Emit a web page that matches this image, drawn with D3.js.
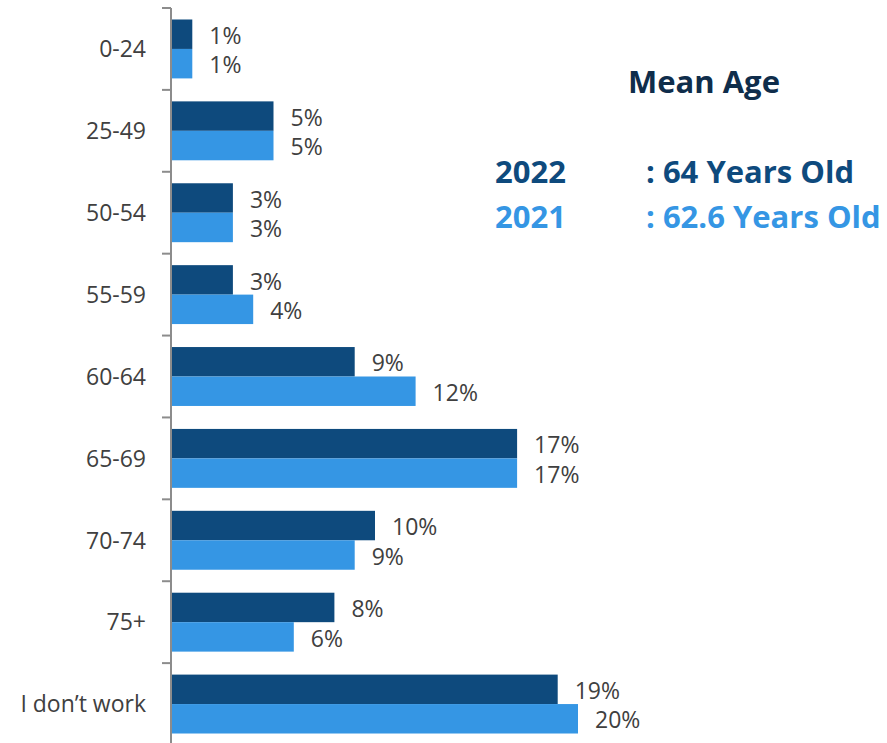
<!DOCTYPE html>
<html>
<head>
<meta charset="utf-8">
<script src="https://cdn.jsdelivr.net/npm/d3@7"></script>
<style>
    body { margin: 0; background: #fff; }
    svg text { font-family: "Open Sans", sans-serif; }
</style>
</head>
<body>
<div id="chart"></div>
<script>
// data
let categories = ["0-24", "25-49", "50-54", "55-59", "60-64", "65-69", "70-74", "75+", "I don\u2019t work"];
let values2022 = [1, 5, 3, 3, 9, 17, 10, 8, 19];
let values2021 = [1, 5, 3, 4, 12, 17, 9, 6, 20];
let seriesNames = ["2022", "2021"];
let meanAges = [": 64 Years Old", ": 62.6 Years Old"];

let colors = {"2022": "#0E4A7D", "2021": "#3596E4"};

let width = 887, height = 743;

let svg = d3.select("#chart").append("svg")
    .attr("width", width)
    .attr("height", height);

// scales
let x = d3.scaleLinear()
    .domain([0, 20])
    .range([172, 578]);

let y = d3.scaleBand()
    .domain(categories)
    .range([8, 745]);

let inner = d3.scaleBand()
    .domain(seriesNames)
    .range([0, y.bandwidth()])
    .paddingOuter(0.39)
    .paddingInner(0);

let rows = categories.map((c, i) => ({cat: c, "2022": values2022[i], "2021": values2021[i]}));

// bars
let groups = svg.selectAll(".row")
    .data(rows)
    .enter().append("g")
    .attr("class", "row")
    .attr("transform", d => `translate(0, ${y(d.cat)})`);

seriesNames.forEach(s => {
    groups.append("rect")
        .attr("x", x(0))
        .attr("y", inner(s))
        .attr("width", d => x(d[s]) - x(0))
        .attr("height", inner.bandwidth())
        .attr("fill", colors[s]);

    groups.append("text")
        .attr("x", d => x(d[s]) + 17)
        .attr("y", inner(s) + inner.bandwidth() / 2)
        .attr("dy", "0.42em")
        .attr("font-size", 23)
        .attr("fill", "#404040")
        .text(d => d[s] + "%");
});

// axis
let axisG = svg.append("g")
    .attr("transform", `translate(${x(0) - 1}, 0)`);

axisG.append("line")
    .attr("y1", 8).attr("y2", height)
    .attr("stroke", "#8c8c8c")
    .attr("stroke-width", 2);

axisG.selectAll(".tick")
    .data(categories)
    .enter().append("line")
    .attr("x1", -9).attr("x2", 0)
    .attr("y1", d => y(d)).attr("y2", d => y(d))
    .attr("stroke", "#8c8c8c")
    .attr("stroke-width", 2);

axisG.selectAll(".lab")
    .data(categories)
    .enter().append("text")
    .attr("x", -25)
    .attr("y", d => y(d) + y.bandwidth() / 2)
    .attr("dy", "0.36em")
    .attr("text-anchor", "end")
    .attr("font-size", 23)
    .attr("fill", "#404040")
    .text(d => d);

// mean age box
svg.append("text")
    .attr("x", 704)
    .attr("y", 93)
    .attr("text-anchor", "middle")
    .attr("font-size", 31)
    .attr("font-weight", "bold")
    .attr("fill", "#0F2D4B")
    .text("Mean Age");

seriesNames.forEach((s, i) => {
    svg.append("text")
        .attr("x", 495)
        .attr("y", 183 + i * 45)
        .attr("font-size", 31)
        .attr("font-weight", "bold")
        .attr("fill", colors[s])
        .text(s);
    svg.append("text")
        .attr("x", 646)
        .attr("y", 183 + i * 45)
        .attr("font-size", 31)
        .attr("font-weight", "bold")
        .attr("fill", colors[s])
        .text(meanAges[i]);
});
</script>
</body>
</html>
